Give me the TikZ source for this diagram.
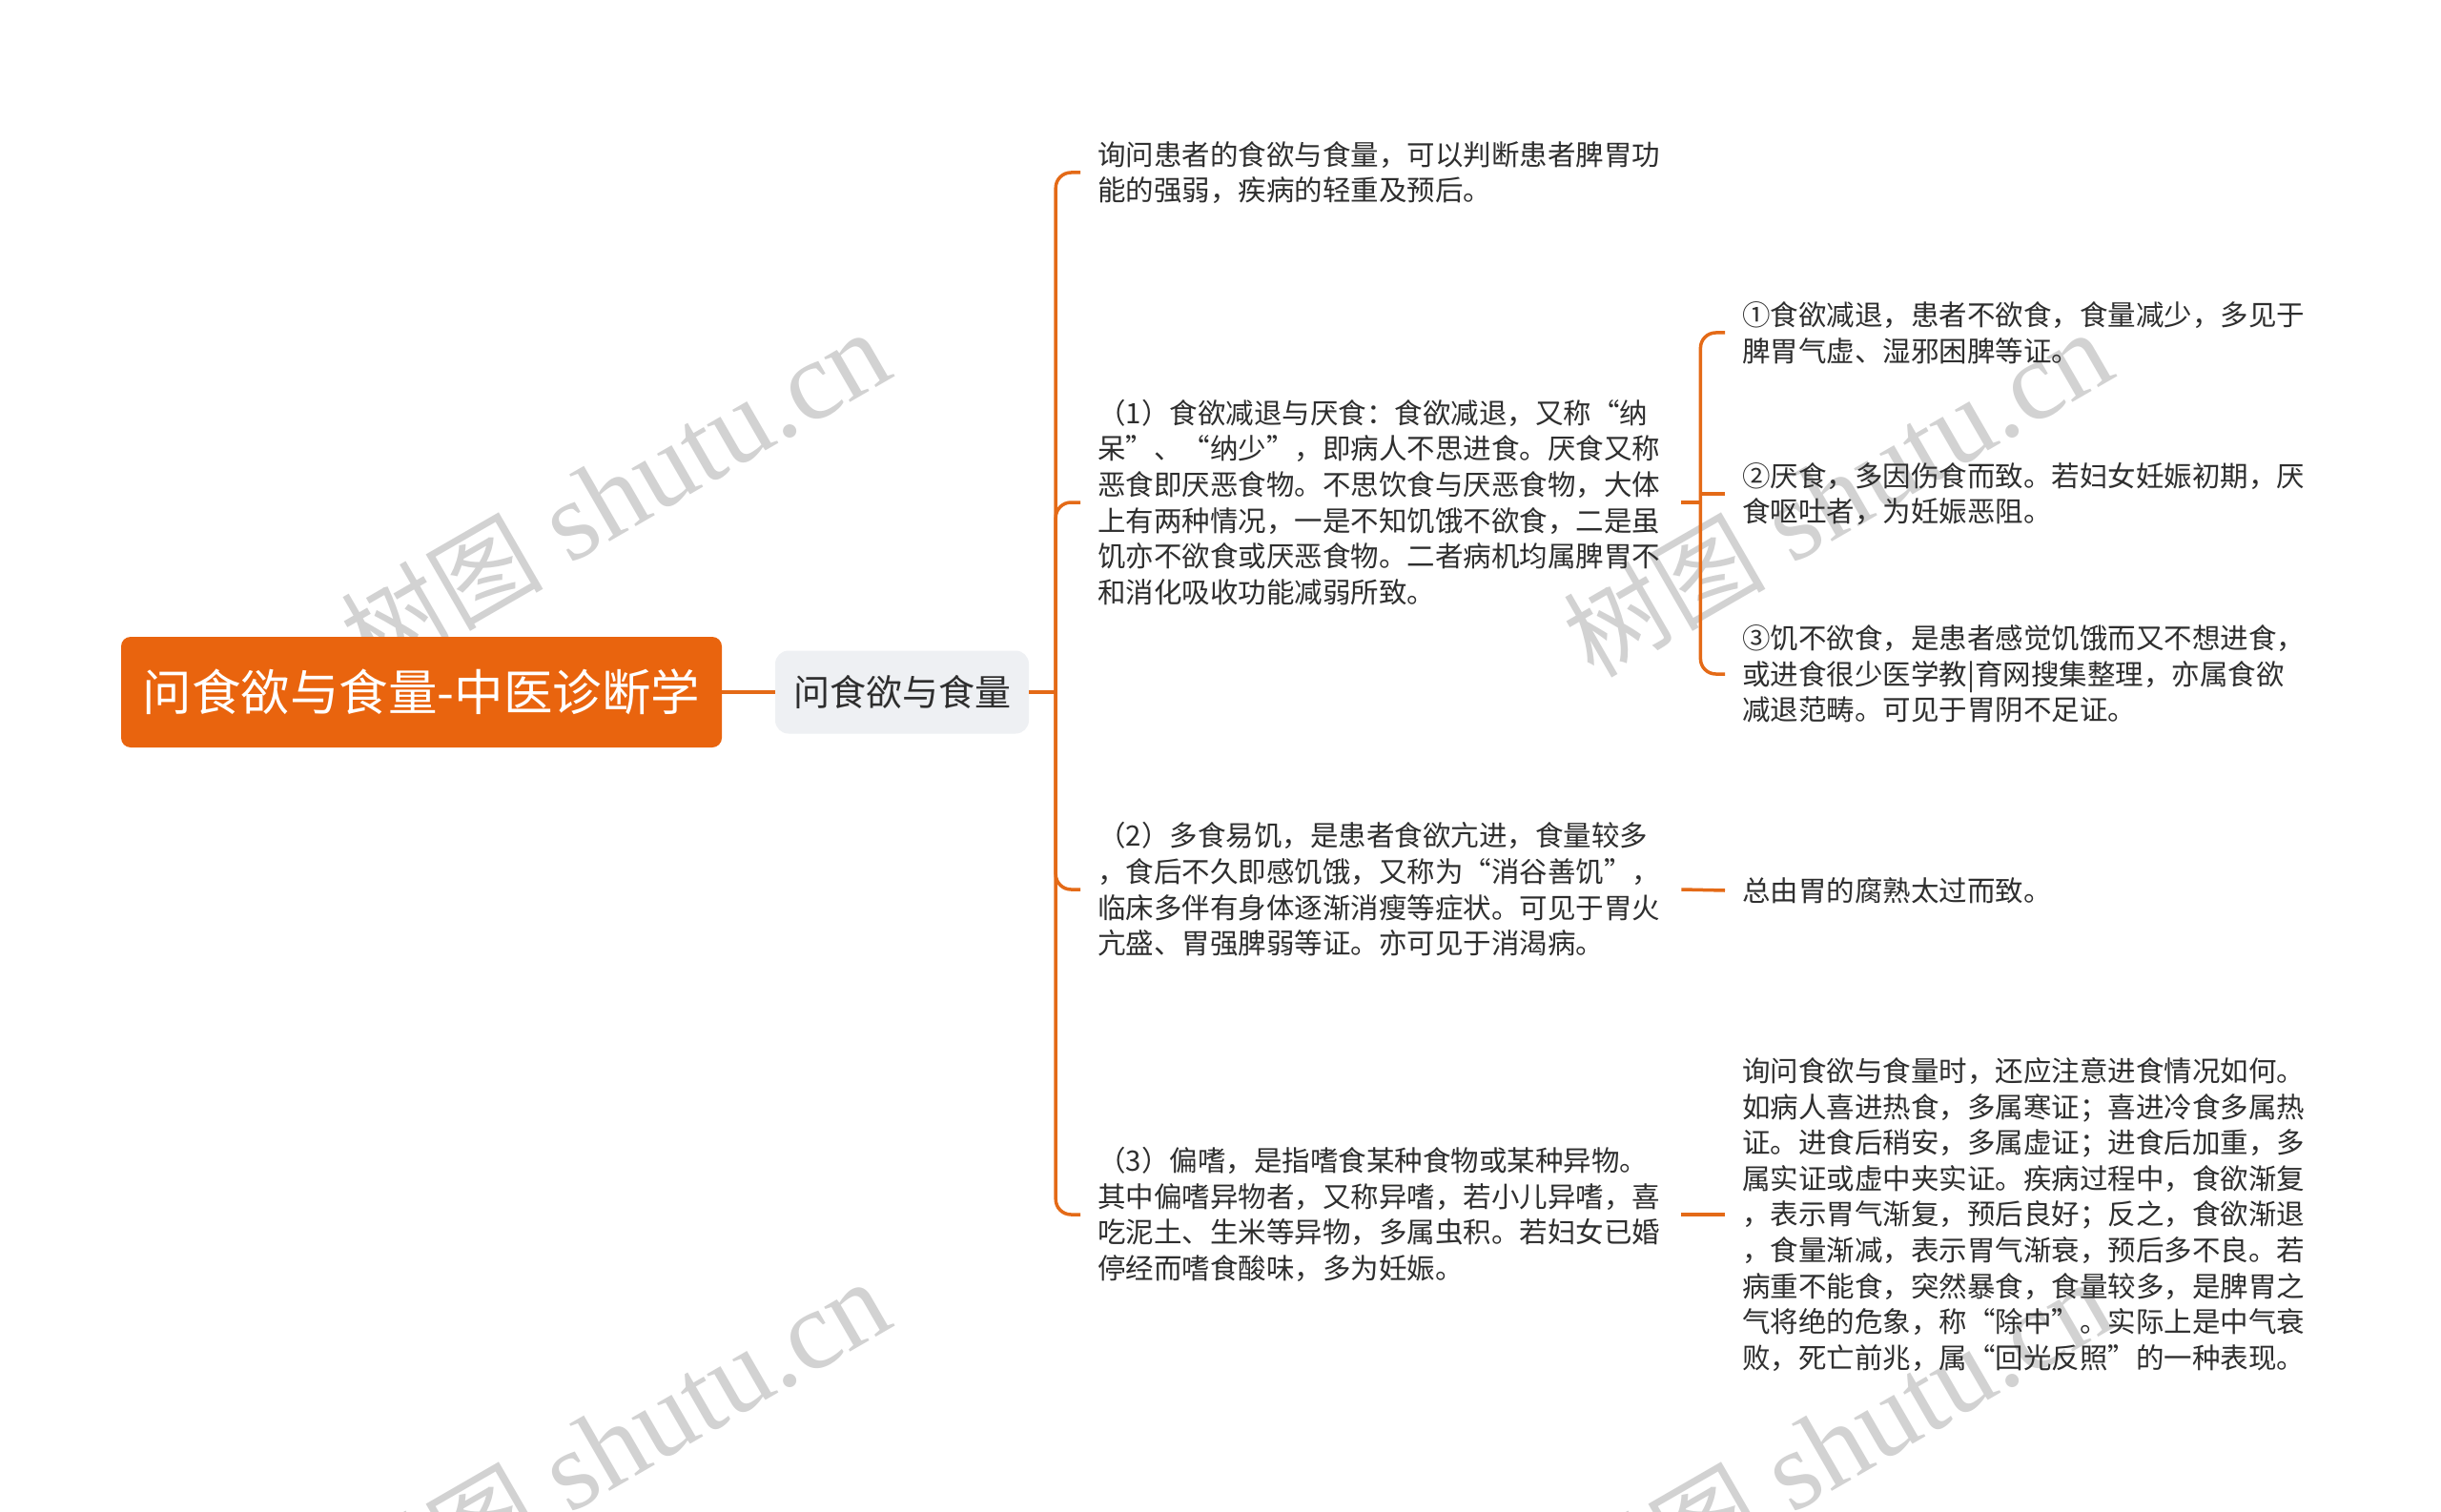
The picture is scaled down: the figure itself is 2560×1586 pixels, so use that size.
\documentclass[tikz,border=0pt]{standalone}
\usepackage{fontspec}
\newfontfamily\cjk{Noto Sans CJK SC}
\newfontfamily\wmserif{Liberation Serif}
\usetikzlibrary{calc}
\definecolor{rootorange}{HTML}{E9640E}
\definecolor{lineorange}{HTML}{E46A17}
\definecolor{subfill}{HTML}{EEF0F3}
\definecolor{txt}{HTML}{2E2E2E}
\definecolor{wmgray}{HTML}{D2D2D2}
\tikzset{
  rootbox/.style={fill=rootorange, rounded corners=10pt, minimum width=630pt, minimum height=116pt, inner sep=0pt, text=white, font=\cjk\fontsize{51.5}{60}\selectfont},
  subbox/.style={fill=subfill, rounded corners=14pt, minimum width=266pt, minimum height=87pt, inner sep=0pt, text=txt, font=\cjk\fontsize{38}{46}\selectfont},
  leaf/.style={anchor=west, text width=594pt, align=left, inner xsep=18pt, inner ysep=0pt, text=txt, font=\cjk\fontsize{29.5}{37.6}\selectfont},
  conn/.style={draw=lineorange, line width=3.5pt, rounded corners=16pt},
  connsharp/.style={draw=lineorange, line width=3.5pt},
  wm/.style={rotate=30, text=wmgray, inner sep=0pt}
}
\begin{document}
\begin{tikzpicture}[x=1pt,y=-1pt]
\path[use as bounding box, fill=white] (0,0) rectangle (2560,1586);

% watermarks
\foreach \i/\cx/\cy in {1/645/518, 2/1927/518, 3/645/1514, 4/1927/1514}
  \node[wm] (wm\i) at (\cx,\cy) {{\cjk\fontsize{106}{106}\selectfont 树图}\hspace{28pt}{\wmserif\fontsize{118}{118}\selectfont shutu.cn}};

% main nodes
\node[rootbox] (root) at (442,726) {问食欲与食量-中医诊断学};
\node[subbox] (sub) at (946,726) {问食欲与食量};

% first level leaves
\node[leaf] (t1) at (1133,181) {询问患者的食欲与食量，可以判断患者脾胃功\\能的强弱，疾病的轻重及预后。};
\node[leaf] (t2) at (1133,527) {（1）食欲减退与厌食：食欲减退，又称“纳\\呆”、“纳少”，即病人不思进食。厌食又称\\恶食即厌恶食物。不思饮食与厌恶食物，大体\\上有两种情况，一是不知饥饿不欲食，二是虽\\饥亦不欲食或厌恶食物。二者病机均属脾胃不\\和消化吸收功能减弱所致。};
\node[leaf] (t3) at (1133,933) {（2）多食易饥，是患者食欲亢进，食量较多\\，食后不久即感饥饿，又称为“消谷善饥”，\\临床多伴有身体逐渐消瘦等症状。可见于胃火\\亢盛、胃强脾弱等证。亦可见于消渴病。};
\node[leaf] (t4) at (1133,1274) {（3）偏嗜，是指嗜食某种食物或某种异物。\\其中偏嗜异物者，又称异嗜，若小儿异嗜，喜\\吃泥土、生米等异物，多属虫积。若妇女已婚\\停经而嗜食酸味，多为妊娠。};

% second level leaves
\node[leaf] (c1) at (1809,349) {①食欲减退，患者不欲食，食量减少，多见于\\脾胃气虚、湿邪困脾等证。};
\node[leaf] (c2) at (1809,518) {②厌食，多因伤食而致。若妇女妊娠初期，厌\\食呕吐者，为妊娠恶阻。};
\node[leaf] (c3) at (1809,707) {③饥不欲食，是患者感觉饥饿而又不想进食，\\或进食很少医学教|育网搜集整理，亦属食欲\\减退范畴。可见于胃阴不足证。};
\node[leaf] (c4) at (1809,934) {总由胃的腐熟太过而致。};
\node[leaf] (c5) at (1809,1274) {询问食欲与食量时，还应注意进食情况如何。\\如病人喜进热食，多属寒证；喜进冷食多属热\\证。进食后稍安，多属虚证；进食后加重，多\\属实证或虚中夹实证。疾病过程中，食欲渐复\\，表示胃气渐复，预后良好；反之，食欲渐退\\，食量渐减，表示胃气渐衰，预后多不良。若\\病重不能食，突然暴食，食量较多，是脾胃之\\气将绝的危象，称“除中”。实际上是中气衰\\败，死亡前兆，属“回光反照”的一种表现。};

% connectors
\draw[connsharp] (root.east) -- (sub.west);
\coordinate (j1) at ($(sub.east)+(28,0)$);
\draw[connsharp] (sub.east) -- (j1);
\draw[conn] (j1) |- (t1.west);
\draw[conn] (j1) |- (t2.west);
\draw[conn] (j1) |- (t3.west);
\draw[conn] (j1) |- (t4.west);

\coordinate (j2) at ($(t2.east)+(20,0)$);
\draw[connsharp] (t2.east) -- (j2);
\draw[conn] (j2) |- (c1.west);
\draw[connsharp] (j2) |- (c2.west);
\draw[conn] (j2) |- (c3.west);

\draw[connsharp] (t3.east) -- (c4.west);
\draw[connsharp] (t4.east) -- (c5.west);
\end{tikzpicture}
\end{document}
